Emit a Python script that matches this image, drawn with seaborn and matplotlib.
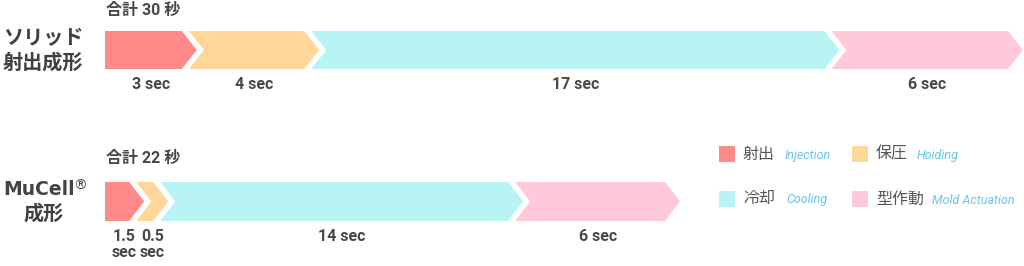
import numpy as np
import pandas as pd
import matplotlib
matplotlib.use("Agg")
import matplotlib.pyplot as plt
import seaborn as sns

# ---------------- data ----------------
phases_jp = ["射出", "保圧", "冷却", "型作動"]
phases_en = ["Injection", "Hoiding", "Cooling", "Mold Actuation"]
colors = ["#FF8A8A", "#FFD899", "#B8F4F4", "#FFC9D9"]

solid_values = [3, 4, 17, 6]
solid_labels = ["3 sec", "4 sec", "17 sec", "6 sec"]
mucell_values = [1.5, 0.5, 14, 6]
mucell_labels = ["1.5\nsec", "0.5\nsec", "14 sec", "6 sec"]

row_titles = ["ソリッド\n射出成形", "MuCell", "®", "成形"]
total_titles = ["合計 30 秒", "合計 22 秒"]

# ---------------- style ----------------
sns.set_theme(style="white")
plt.rcParams["font.family"] = ["Noto Sans CJK JP", "DejaVu Sans"]

W, H = 1024, 266
fig = plt.figure(figsize=(W / 100, H / 100), dpi=100)


def px_axes(x0, x1, ytop, ybot):
    return fig.add_axes([x0 / W, (H - ybot) / H, (x1 - x0) / W, (ybot - ytop) / H])


TIP_PX = 15    # chevron depth in pixels
GAP_PX = 8     # visual gap between chevrons
MIN_PX = 32    # minimum drawn chevron length in pixels

LABEL_FONT = ["Roboto", "Noto Sans CJK JP"]


def draw_row(ax, values, labels, width_px):
    df = pd.DataFrame({"phase": phases_jp, "value": values, "label": labels})
    df["end"] = df["value"].cumsum()
    df["start"] = df["end"] - df["value"]
    total = df["end"].iloc[-1]
    ax.set_xlim(0, total)
    ax.set_ylim(0, 1)
    ax.axis("off")
    unit = total / width_px
    d = TIP_PX * unit
    g = GAP_PX * unit
    mn = MIN_PX * unit
    prev_tip = None
    for i, r in df.iterrows():
        if i == 0:
            s = r["start"]
        else:
            s = max(r["start"] - g, prev_tip - d + (GAP_PX - 1) * unit)
        e = max(r["end"], s + mn)
        xs = [s, e - d, e, e - d, s]
        ys = [1, 1, 0.5, 0, 0]
        if i > 0:
            xs.append(s + d)
            ys.append(0.5)
        ax.fill(xs, ys, color=colors[i], lw=0)
        cx = (s + e) / 2
        ax.text(cx, -0.2, r["label"], ha="center", va="top", fontsize=11.5,
                fontweight="bold", color="#484848", linespacing=1.1,
                family=LABEL_FONT)
        prev_tip = e
    return df


ax_top = px_axes(105, 1023, 31, 69)
draw_row(ax_top, solid_values, solid_labels, 1023 - 105)
ax_bot = px_axes(105, 680, 182, 221)
draw_row(ax_bot, mucell_values, mucell_labels, 680 - 105)

# totals
for txt, y in zip(total_titles, [10, 158]):
    fig.text(106 / W, 1 - y / H, txt, ha="left", va="center",
             fontsize=11.5, fontweight="bold", color="#484848",
             family=["Roboto", "Noto Sans CJK JP"])

# row titles
fig.text(43 / W, 1 - 50 / H, row_titles[0], ha="center", va="center",
         fontsize=14.5, fontweight="bold", color="#3f3f3f", linespacing=1.2)
fig.text(3 / W, 1 - 189.5 / H, row_titles[1], ha="left", va="center",
         fontsize=13.5, fontweight="bold", color="#444444",
         family=["DejaVu Sans"])
fig.text(73 / W, 1 - 186 / H, row_titles[2], ha="left", va="center",
         fontsize=10, fontweight="normal", color="#444444",
         family=["DejaVu Sans"])
fig.text(44 / W, 1 - 213 / H, row_titles[3], ha="center", va="center",
         fontsize=14.5, fontweight="bold", color="#3f3f3f")

# legend
leg_pos = [(719, 154), (852, 154), (719, 199), (852, 199)]
en_x = {"射出": 785, "保圧": 917, "冷却": 786, "型作動": 932}
for (x, y), c, jp, en in zip(leg_pos, colors, phases_jp, phases_en):
    fig.patches.append(plt.Rectangle((x / W, (H - y - 8) / H), 16 / W, 16 / H,
                                     transform=fig.transFigure, color=c, lw=0))
    fig.text((x + 24) / W, 1 - y / H, jp, ha="left", va="center",
             fontsize=11.5, color="#555555")
    fig.text(en_x[jp] / W, 1 - (y + 1) / H, en, ha="left", va="center",
             fontsize=9, style="italic", color="#66C6EA",
             family=["Roboto"])

fig.savefig("out.png", dpi=100)
